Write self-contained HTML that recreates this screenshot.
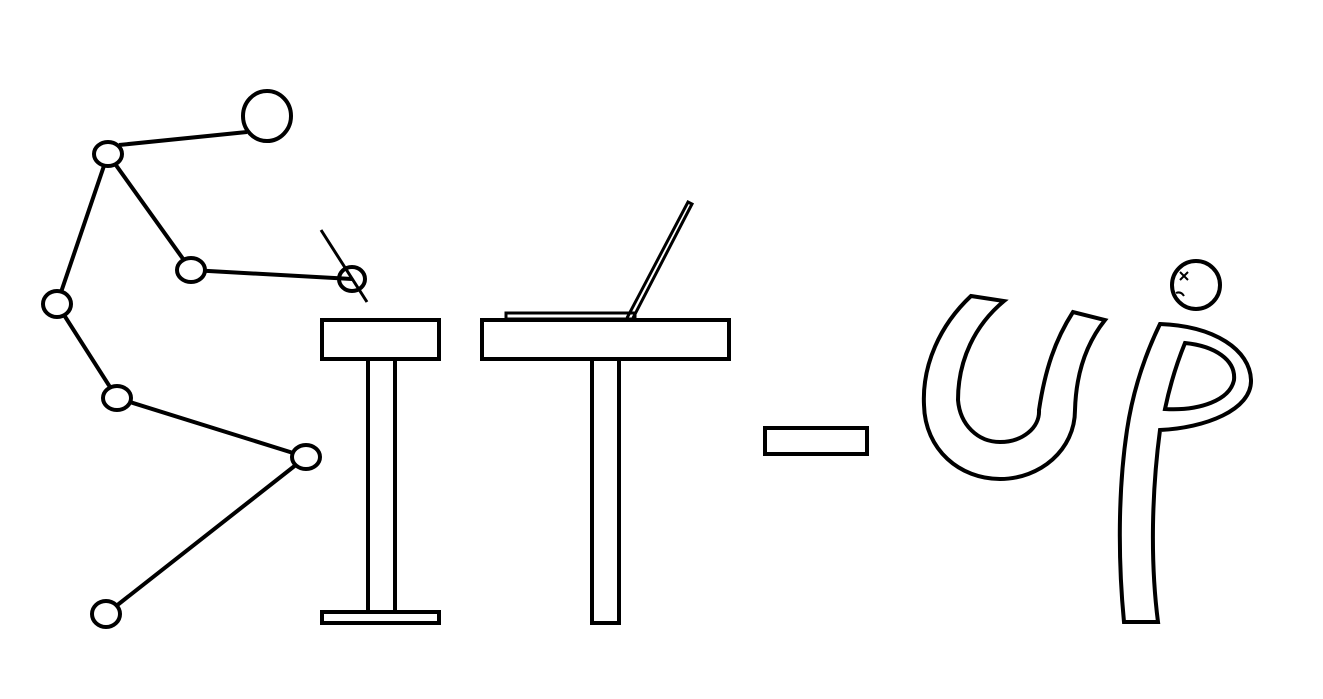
<!DOCTYPE html>
<html><head><meta charset="utf-8"><style>html,body{margin:0;padding:0;background:#fff;width:1323px;height:699px;overflow:hidden}svg{display:block}</style></head>
<body>
<svg width="1323" height="699" viewBox="0 0 1323 699" fill="none" stroke="#000" stroke-width="4" stroke-linejoin="miter">
<title>SIT-UP</title>
<g>
  <line x1="119" y1="145" x2="247" y2="132"/>
  <line x1="108" y1="154" x2="191" y2="270"/>
  <line x1="191" y1="270" x2="352" y2="279"/>
  <line x1="108" y1="154" x2="57" y2="304"/>
  <line x1="57" y1="304" x2="117" y2="398"/>
  <line x1="117" y1="398" x2="306" y2="457"/>
  <line x1="306" y1="457" x2="106" y2="614"/>
  <line x1="321" y1="230" x2="367" y2="302" stroke-width="3"/>
  <ellipse cx="267" cy="116" rx="24" ry="25" fill="#fff"/>
  <ellipse cx="108" cy="154" rx="14" ry="12" fill="#fff"/>
  <ellipse cx="191" cy="270" rx="14" ry="12" fill="#fff"/>
  <ellipse cx="352" cy="279" rx="13" ry="12" fill="none"/>
  <ellipse cx="57" cy="304" rx="14" ry="13" fill="#fff"/>
  <ellipse cx="117" cy="398" rx="14" ry="12" fill="#fff"/>
  <ellipse cx="306" cy="457" rx="14" ry="12" fill="#fff"/>
  <ellipse cx="106" cy="614" rx="14" ry="13" fill="#fff"/>
</g>
<g>
  <rect x="368" y="359" width="27" height="253"/>
  <rect x="322" y="320" width="117" height="39" fill="#fff"/>
  <rect x="322" y="612" width="117" height="11" fill="#fff"/>
</g>
<g>
  <rect x="592" y="359" width="27" height="264"/>
  <rect x="482" y="320" width="247" height="39" fill="#fff"/>
</g>
<g stroke-width="3">
  <rect x="506" y="313" width="129" height="6"/>
  <path d="M627,318 L688,202 L692,204 L633,318"/>
</g>
<rect x="765" y="428" width="102" height="26"/>
<path d="M971,296 L1004,301 C975,325 958,360 958,400 C960,425 978,442 1000,442 C1022,442 1040,428 1039,410 C1045,370 1055,340 1073,312 L1105,320 C1085,345 1076,375 1075,410 C1075,450 1040,479 1000,479 C960,479 925,450 924,405 C922,365 940,325 971,296 Z"/>
<path d="M1124,622 C1118,560 1118,490 1127,430 C1133,390 1145,355 1160,324 C1215,326 1250,350 1251,380 C1252,410 1205,428 1160,430 C1152,490 1150,560 1158,622 Z"/>
<path d="M1185,343 C1215,346 1236,360 1234,380 C1230,400 1200,411 1165,409 C1170,385 1176,365 1185,343 Z"/>
<g>
  <circle cx="1196" cy="285" r="24"/>
  <path d="M1180,272 L1188,280 M1188,272 L1180,280" stroke-width="2"/>
  <path d="M1176,293 Q1181,291 1184,296" stroke-width="2"/>
</g>
</svg>
</body></html>
